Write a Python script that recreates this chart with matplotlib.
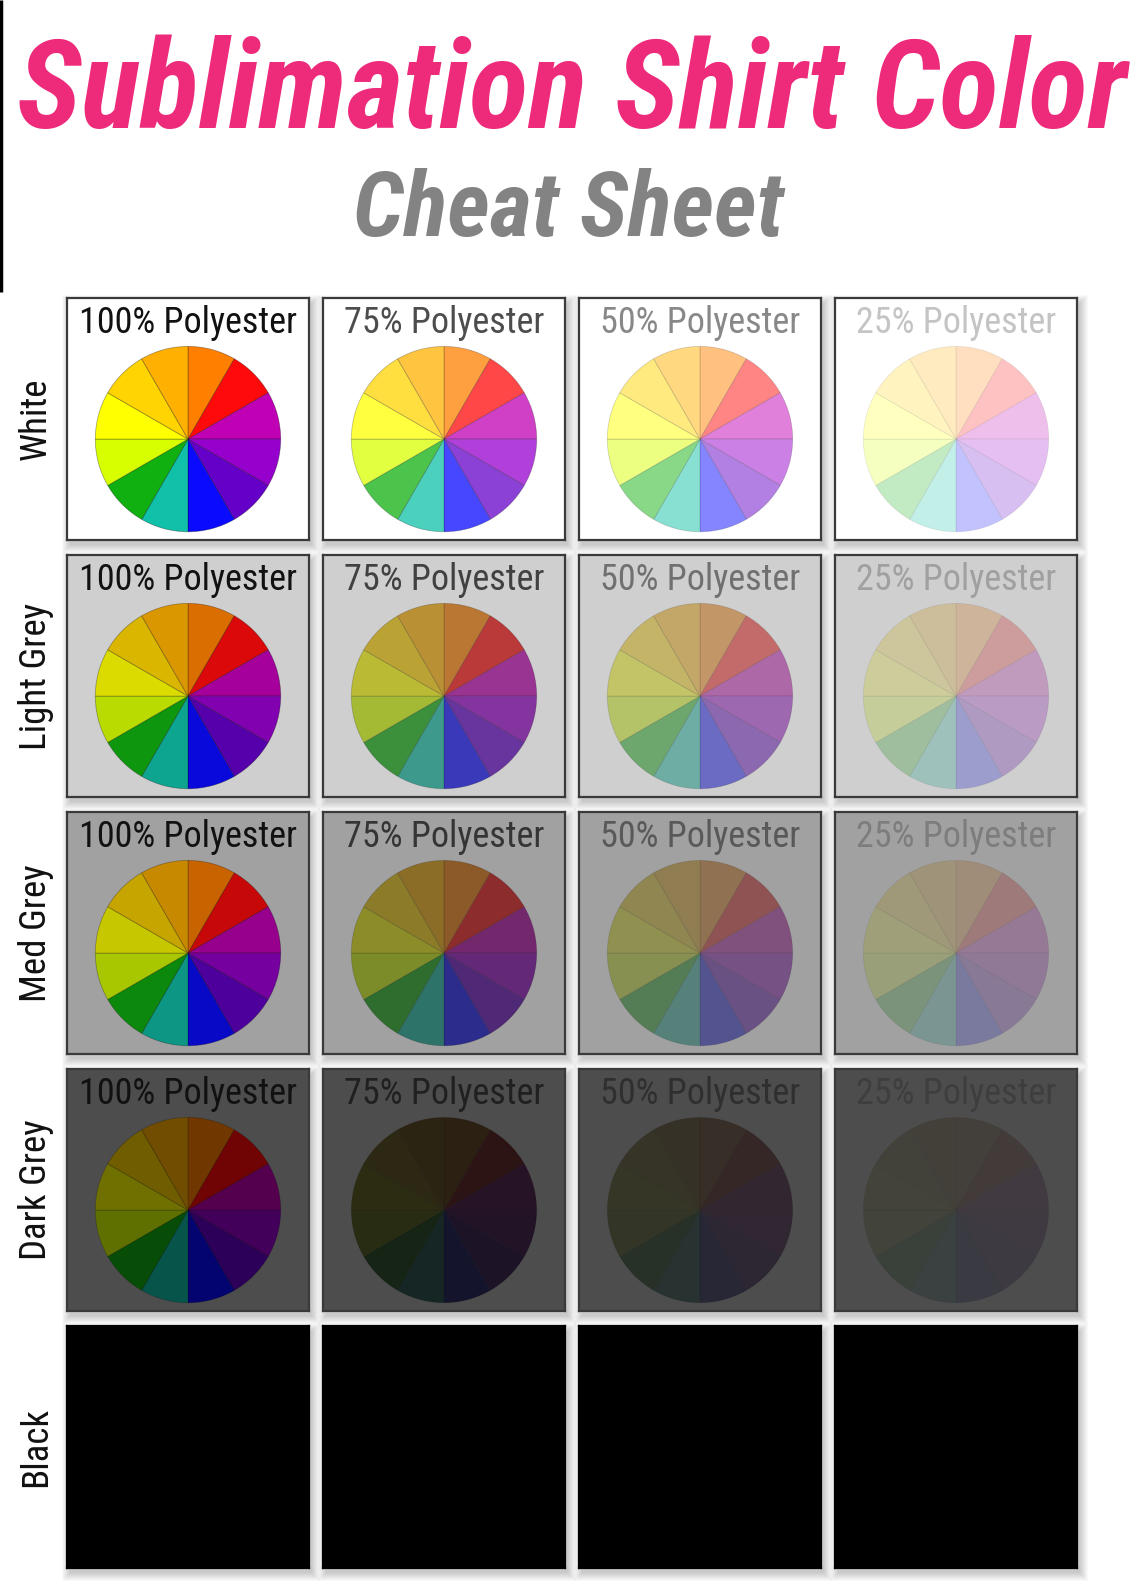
import matplotlib
matplotlib.use("Agg")
import matplotlib.pyplot as plt
from matplotlib.patches import Rectangle
from matplotlib import font_manager as fm
import matplotlib.colors as mcolors
import numpy as np

W, H, DPI = 1140, 1593, 100

# ---------------- data ----------------
title_main = "Sublimation Shirt Color"
title_sub = "Cheat Sheet"
shirt_colors = ["White", "Light Grey", "Med Grey", "Dark Grey", "Black"]
shirt_bg = ["#ffffff", "#cfcfcf", "#a1a1a1", "#4d4d4d", "#000000"]
polyester_pct = [100, 75, 50, 25]
polyester_labels = [f"{p}% Polyester" for p in polyester_pct]
wheel_colors = ["#ff8000", "#ff0a0a", "#c000b4", "#9600cc", "#6400c8", "#0a0aff",
                "#10c0a8", "#10b010", "#d8ff00", "#ffff00", "#ffd400", "#ffb000"]
wheel_values = [1] * 12
# how strongly the ink shows on each shirt colour (rows) per polyester blend (cols)
ink_strength = [
    [1.00, 1.00, 1.00, 1.00],
    [0.86, 0.70, 0.72, 0.78],
    [0.78, 0.52, 0.50, 0.60],
    [0.44, 0.13, 0.12, 0.15],
    [0.00, 0.00, 0.00, 0.00],
]
shows_print = [True, True, True, True, False]

# ---------------- fonts ----------------
def _wnum(w):
    if isinstance(w, (int, float)):
        return w
    return {"normal": 400, "regular": 400, "book": 400, "medium": 500,
            "bold": 700, "semibold": 600, "demibold": 600, "light": 300}.get(str(w).lower(), 400)

def find_narrow(want_italic=False, want_weight=400):
    pref = ["roboto", "liberation sans narrow", "open sans", "noto sans", "dejavu sans", "lato", "inter"]
    best, best_score = None, None
    for f in fm.fontManager.ttflist:
        n, fn = f.name.lower(), f.fname.lower()
        narrow = ("narrow" in n or "condensed" in n or "condensed" in fn or "narrow" in fn
                  or str(f.stretch).lower() in ("condensed", "semi-condensed", "extra-condensed"))
        if not narrow or "mono" in n or "cjk" in n:
            continue
        if "serif" in n.replace("sans serif", "") and "sans" not in n:
            continue
        if "extra" in fn or "ultra" in fn:
            continue
        italic = f.style in ("italic", "oblique")
        if italic != want_italic:
            continue
        score = abs(_wnum(f.weight) - want_weight)
        rank = next((i for i, p in enumerate(pref) if p in n), len(pref))
        key = (rank, score)
        if best is None or key < best_score:
            best, best_score = f, key
    return best

_f_reg = find_narrow(False, 400)
_f_title = find_narrow(True, 700) or find_narrow(False, 700)
FP_LABEL = fm.FontProperties(fname=_f_reg.fname) if _f_reg else fm.FontProperties(family="DejaVu Sans")
if _f_title:
    FP_TITLE = fm.FontProperties(fname=_f_title.fname)
else:
    FP_TITLE = fm.FontProperties(family="DejaVu Sans", style="italic", weight="bold")

# ---------------- style / layout ----------------
PINK = "#ee2a7b"
GREY_T = "#838383"
X0, XP = 67, 256
Y0, YP = 298, 257
S = 242

fig = plt.figure(figsize=(W / DPI, H / DPI), dpi=DPI)
fig.patch.set_facecolor("white")
ax0 = fig.add_axes([0, 0, 1, 1])
ax0.set_xlim(0, W)
ax0.set_ylim(H, 0)
ax0.axis("off")
renderer = fig.canvas.get_renderer()

def fit_size(text, fp, target_w, rotation=0):
    t = ax0.text(0, 0, text, fontproperties=fp, fontsize=40, rotation=rotation)
    bb = t.get_window_extent(renderer)
    w = bb.height if rotation else bb.width
    t.remove()
    return 40 * target_w / w

# thin black edge line at top-left of the sheet
ax0.plot([1, 1], [0, 292], color="black", lw=2.5, solid_capstyle="butt")

# titles
fs1 = fit_size(title_main, FP_TITLE, 1110)
ax0.text(W / 2 + 2, 128, title_main, ha="center", va="baseline", fontproperties=FP_TITLE,
         fontsize=fs1, color=PINK)
fs2 = fit_size(title_sub, FP_TITLE, 430)
ax0.text(568, 236, title_sub, ha="center", va="baseline", fontproperties=FP_TITLE,
         fontsize=fs2, color=GREY_T)

fs_row = fit_size("Light Grey", FP_LABEL, 147, rotation=90)
fs_lab = fit_size("100% Polyester", FP_LABEL, 218)

def rgb(c):
    return np.array(mcolors.to_rgb(c))

for r, shirt in enumerate(shirt_colors):
    py = Y0 + r * YP
    bg = rgb(shirt_bg[r])
    # row label
    ax0.text(36, py + S / 2, shirt, rotation=90, ha="center", va="center",
             fontproperties=FP_LABEL, fontsize=fs_row, color="#111111")
    for c, pct in enumerate(polyester_pct):
        px = X0 + c * XP
        # soft drop shadow
        for k in range(9):
            ax0.add_patch(Rectangle((px + 3 - k, py + 5 - k), S + 2 * k, S + 2 * k,
                                    facecolor="black", alpha=0.022, lw=0, zorder=0.5))
        ax = fig.add_axes([px / W, 1 - (py + S) / H, S / W, S / H])
        ax.set_facecolor(shirt_bg[r])
        for sp in ax.spines.values():
            sp.set_color("#3a3a3a" if shows_print[r] else "#000000")
            sp.set_linewidth(1.6)
        if shows_print[r]:
            a = pct / 100.0
            m = ink_strength[r][c]
            cols = [tuple((1 - a) * bg + a * m * rgb(wc)) for wc in wheel_colors]
            ax.pie(wheel_values, colors=cols, startangle=90, counterclock=False,
                   center=(0.5, 0.417), radius=0.383, frame=True,
                   wedgeprops=dict(edgecolor=(0, 0, 0, 0.32 * a * (0.3 + 0.7 * m)),
                                   linewidth=0.6))
            tc = tuple((1 - a) * bg + a * rgb("#111111"))
            ax.text(0.5, 0.855, polyester_labels[c], ha="center", va="baseline",
                    fontproperties=FP_LABEL, fontsize=fs_lab, color=tc,
                    transform=ax.transAxes)
        ax.set_xlim(0, 1)
        ax.set_ylim(0, 1)
        ax.set_xticks([])
        ax.set_yticks([])

fig.savefig("out.png", dpi=DPI, facecolor="white")
